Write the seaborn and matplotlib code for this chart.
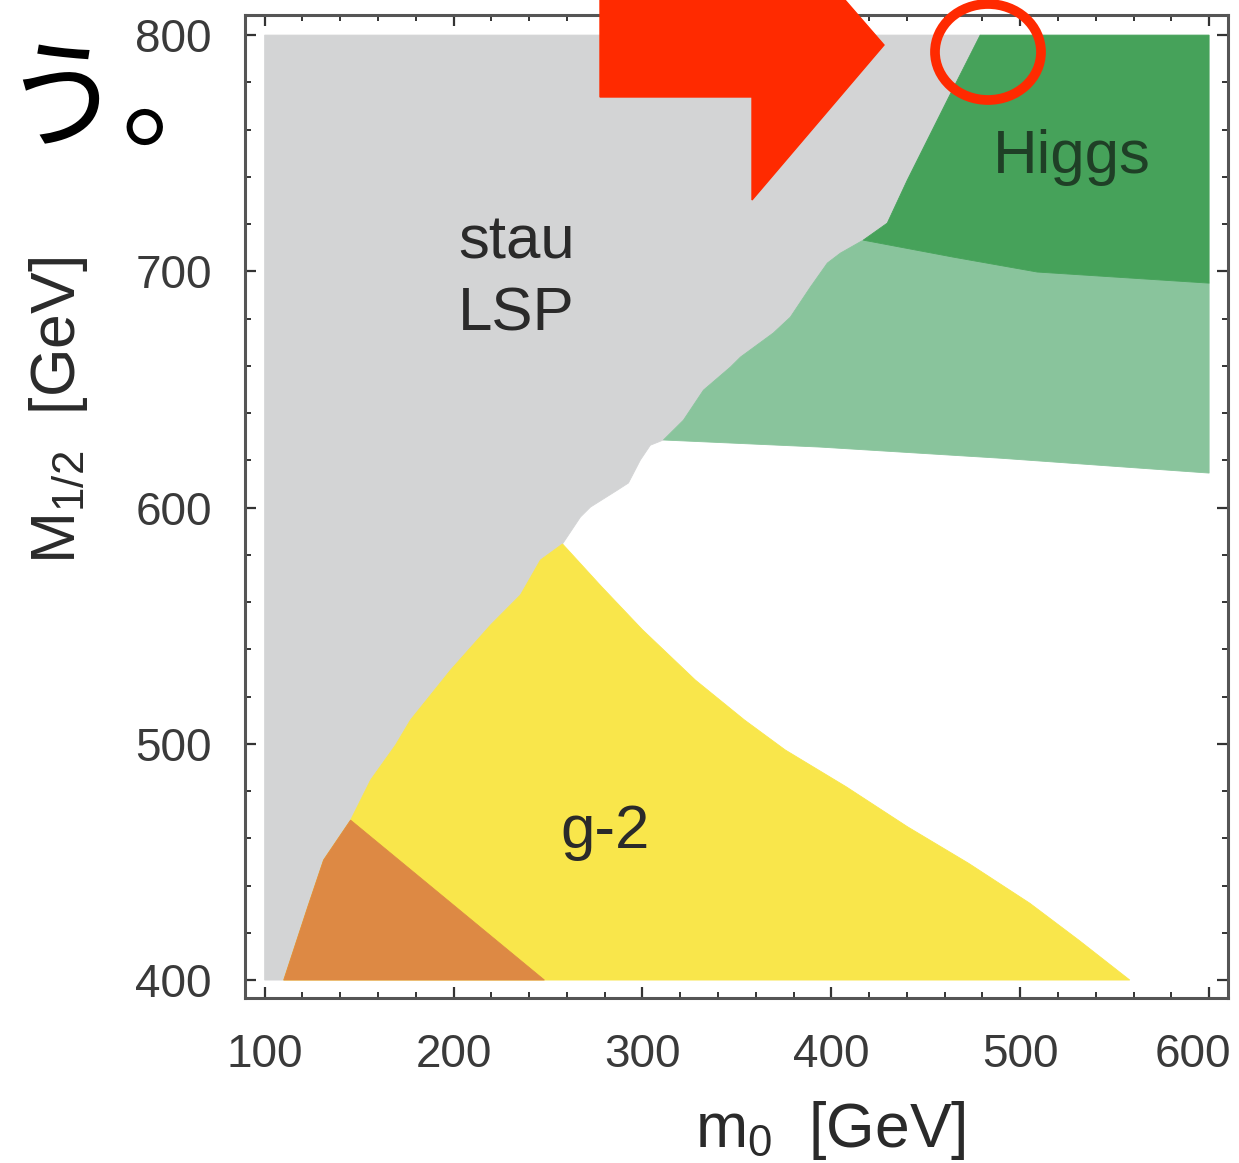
import matplotlib
matplotlib.use("Agg")
import matplotlib.pyplot as plt
from matplotlib.patches import Polygon, Ellipse
from matplotlib.ticker import MultipleLocator
from matplotlib.transforms import ScaledTranslation
import seaborn as sns

# ---------------- data (m0, M1/2 in GeV) ----------------
stau_edge_m0 = [110.1, 122.8, 131.2, 145.5, 156.1, 169.3, 177.2, 198.4, 219.6, 235.4, 246.0,
                257.7, 267.2, 272.5, 286.8, 292.6, 298.9, 304.2, 311.1, 321.7, 332.3, 346.6,
                351.9, 369.3, 378.3, 388.9, 397.9, 404.8, 416.9, 429.6, 440.2, 461.4, 478.8]
stau_edge_M = [400, 430.9, 450.8, 467.7, 484.7, 499.5, 510.1, 531.2, 550.3, 563.0, 577.8,
               584.6, 596.0, 600.2, 607.4, 610.4, 620.1, 626.4, 628.6, 637.0, 649.7, 659.5,
               663.7, 673.9, 680.6, 693.3, 703.5, 707.7, 713.2, 720.4, 738.6, 772.5, 800]

g2_m0 = [110.1, 122.8, 131.2, 145.5, 156.1, 169.3, 177.2, 198.4, 219.6, 235.4, 246.0, 257.7,
         278.4, 300.0, 328.0, 354.0, 375.6, 407.9, 440.3, 472.7, 505.1, 531.0, 558.0]
g2_M = [400, 430.9, 450.8, 467.7, 484.7, 499.5, 510.1, 531.2, 550.3, 563.0, 577.8, 584.6,
        566.5, 548.3, 527.0, 510.1, 497.4, 481.8, 464.9, 449.4, 432.5, 416.9, 400]

g2_strong_m0 = [110.1, 122.8, 131.2, 145.5, 248.1]
g2_strong_M = [400, 430.9, 450.8, 467.7, 400]

higgs_wide_m0 = [311.1, 321.7, 332.3, 346.6, 351.9, 369.3, 378.3, 388.9, 397.9, 404.8, 416.9,
                 464.6, 509.0, 600, 600, 489.4, 394.2]
higgs_wide_M = [628.6, 637.0, 649.7, 659.5, 663.7, 673.9, 680.6, 693.3, 703.5, 707.7, 713.2,
                706.0, 699.7, 695.0, 614.6, 620.9, 625.6]

higgs_m0 = [416.9, 429.6, 440.2, 461.4, 478.8, 600, 600, 509.0, 464.6]
higgs_M = [713.2, 720.4, 738.6, 772.5, 800, 800, 695.0, 699.7, 706.0]

x_ticks = [100, 200, 300, 400, 500, 600]
y_ticks = [400, 500, 600, 700, 800]

# ---------------- style ----------------
sns.set_theme(style="ticks")
plt.rcParams["font.family"] = ["Liberation Sans", "DejaVu Sans"]
plt.rcParams["mathtext.fontset"] = "custom"
plt.rcParams["mathtext.rm"] = "Liberation Sans"
plt.rcParams["mathtext.it"] = "Liberation Sans"
plt.rcParams["mathtext.default"] = "regular"

GRAY = "#d3d4d5"
YELLOW = "#f9e64b"
ORANGE = "#dd8944"
DGREEN = "#46a25a"
LGREEN = "#89c49c"
TXT = "#2a2a2a"

fig = plt.figure(figsize=(12.39, 11.63), dpi=100)
ax = fig.add_axes([245 / 1239, 165 / 1163, 983 / 1239, 983 / 1163])
ax.set_facecolor("white")

def region(xs, ys, color):
    ax.fill(xs, ys, facecolor=color, edgecolor=color, linewidth=0.6, zorder=1)

region([100] + stau_edge_m0 + [100], [400] + stau_edge_M + [800], GRAY)
region(g2_m0, g2_M, YELLOW)
region(g2_strong_m0, g2_strong_M, ORANGE)
region(higgs_wide_m0, higgs_wide_M, LGREEN)
region(higgs_m0, higgs_M, DGREEN)

ax.set_xlim(89.6, 610.0)
ax.set_ylim(392.4, 808.5)
ax.set_xticks(x_ticks)
ax.set_yticks(y_ticks)
ax.xaxis.set_minor_locator(MultipleLocator(20))
ax.yaxis.set_minor_locator(MultipleLocator(20))
ax.tick_params(which="both", direction="in", top=True, right=True, color="#333333")
ax.tick_params(which="major", length=8, width=1.6, labelsize=33, labelcolor="#3a3a3a")
ax.tick_params(axis="x", which="major", pad=25)
ax.tick_params(axis="y", which="major", pad=24)
ax.tick_params(which="minor", length=4.5, width=1.4)
for s in ax.spines.values():
    s.set_color("#555555")
    s.set_linewidth(2.2)

# last x tick label nudged left so that it stays inside the picture
fig.canvas.draw()
last = ax.get_xticklabels()[-1]
last.set_transform(last.get_transform() + ScaledTranslation(-0.16, 0, fig.dpi_scale_trans))

ax.set_xlabel(r"m$_0$  [GeV]", fontsize=45, color=TXT)
ax.set_ylabel(r"M$_{1/2}$  [GeV]", fontsize=45, color=TXT)
ax.xaxis.set_label_coords(0.595, -0.103)
ax.yaxis.set_label_coords(-0.158, 0.598)

ax.text(233.3, 705.6, "stau", fontsize=44.5, color=TXT, ha="center", va="baseline", zorder=3)
ax.text(233.3, 675.1, "LSP", fontsize=44.5, color=TXT, ha="center", va="baseline", zorder=3)
ax.text(527.5, 741.6, "Higgs", fontsize=44.5, color="#1f3f26", ha="center", va="baseline", zorder=3)
ax.text(280.4, 455.9, "g-2", fontsize=44.5, color=TXT, ha="center", va="baseline", zorder=3)

# ---------------- overlay annotations (pixel coords) ----------------
ov = fig.add_axes([0, 0, 1, 1], zorder=10)
ov.set_xlim(0, 1239)
ov.set_ylim(1163, 0)
ov.axis("off")
ov.patch.set_alpha(0)
ov.add_patch(Polygon([(600, 0), (845, 0), (884, 45), (752, 200), (752, 97), (600, 97)],
                     closed=True, facecolor="#ff2a00", edgecolor="#ff2a00", linewidth=1))
ov.add_patch(Ellipse((988, 52), 106, 96, fill=False, edgecolor="#ff2a00", linewidth=7))
ov.text(2, 138, "う。", fontsize=86, family=["Noto Sans CJK JP", "DejaVu Sans"],
        color="black", ha="left", va="baseline")

fig.savefig("out.png", dpi=100)
